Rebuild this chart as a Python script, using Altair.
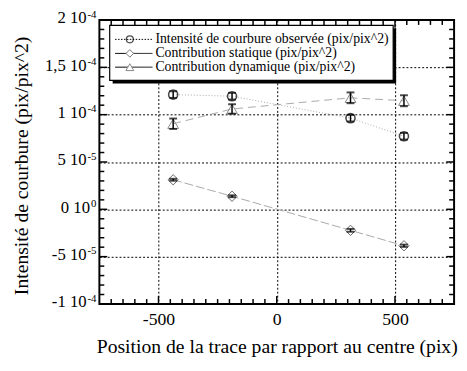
import altair as alt
import pandas as pd

# ---------------- data ----------------
positions = [-438, -189, 312, 538]

observed = [12.12e-5, 11.95e-5, 9.63e-5, 7.72e-5]
observed_err = [0.35e-5, 0.35e-5, 0.35e-5, 0.35e-5]

statique = [3.12e-5, 1.38e-5, -2.22e-5, -3.85e-5]
statique_err = [0.10e-5, 0.10e-5, 0.15e-5, 0.12e-5]

dynamique = [9.04e-5, 10.60e-5, 11.78e-5, 11.47e-5]
dynamique_err = [0.55e-5, 0.50e-5, 0.57e-5, 0.58e-5]

series_names = [
    "Intensité de courbure observée (pix/pix^2)",
    "Contribution statique (pix/pix^2)",
    "Contribution dynamique (pix/pix^2)",
]

x_tick_values = [-500, 0, 500]
y_tick_values = [-1e-4, -5e-5, 0.0, 5e-5, 1e-4, 1.5e-4, 2e-4]
y_tick_mantissa = ["-1 10", "-5 10", "0 10", "5 10", "1 10", "1,5 10", "2 10"]
y_tick_exponent = ["-4", "-5", "0", "-5", "-4", "-4", "-4"]

x_title = "Position de la trace par rapport au centre (pix)"
y_title = "Intensité de courbure (pix/pix^2)"

# ---------------- layout / style ----------------
FONT = "Liberation Serif, Times New Roman, DejaVu Serif, serif"
W, H = 361, 289
X_DOMAIN = [-750, 750]
Y_DOMAIN = [-1e-4, 2e-4]

x_scale = alt.Scale(domain=X_DOMAIN, nice=False, zero=False)
y_scale = alt.Scale(domain=Y_DOMAIN, nice=False, zero=False)

x_axis = alt.Axis(
    values=x_tick_values, grid=True, gridDash=[2, 2], gridColor="black",
    gridWidth=1, gridOpacity=1, ticks=False, domain=False,
    labelFont=FONT, labelFontSize=18, labelColor="black", labelPadding=7,
    labelExpr="'' + datum.value",
    title=x_title, titleFont=FONT, titleFontSize=20, titleFontWeight="normal",
    titleColor="black", titleY=49.5, titleBaseline="alphabetic",
)
y_axis = alt.Axis(
    values=y_tick_values, grid=True, gridDash=[2, 2], gridColor="black",
    gridWidth=1, gridOpacity=1, ticks=False, labels=False, domain=False,
    title=y_title, titleFont=FONT, titleFontSize=20, titleFontWeight="normal",
    titleColor="black", titleX=-73, titleY=148, titleAngle=270,
    titleBaseline="alphabetic", titleAlign="center",
)


def X(field):
    return alt.X(f"{field}:Q", scale=x_scale, axis=x_axis)


def Y(field):
    return alt.Y(f"{field}:Q", scale=y_scale, axis=y_axis)


def frame(vals, errs, name):
    return pd.DataFrame({
        "x": positions,
        "y": vals,
        "lo": [v - e for v, e in zip(vals, errs)],
        "hi": [v + e for v, e in zip(vals, errs)],
        "serie": name,
    })


df_obs = frame(observed, observed_err, series_names[0])
df_sta = frame(statique, statique_err, series_names[1])
df_dyn = frame(dynamique, dynamique_err, series_names[2])

layers = []

# connecting lines
LINE_GREY = "#a8a8a8"
layers.append(alt.Chart(df_obs).mark_line(color=LINE_GREY, strokeWidth=1, strokeDash=[1, 2]).encode(x=X("x"), y=Y("y")))
layers.append(alt.Chart(df_sta).mark_line(color=LINE_GREY, strokeWidth=1, strokeDash=[9, 3]).encode(x=X("x"), y=Y("y")))
layers.append(alt.Chart(df_dyn).mark_line(color=LINE_GREY, strokeWidth=1, strokeDash=[8, 5]).encode(x=X("x"), y=Y("y")))

# points
layers.append(alt.Chart(df_obs).mark_point(shape="circle", size=85, filled=False, color="black", strokeWidth=1.6).encode(x=X("x"), y=Y("y")))
layers.append(alt.Chart(df_sta).mark_point(shape="diamond", size=110, filled=True, fill="white", stroke="#666", strokeWidth=1, opacity=1).encode(x=X("x"), y=Y("y")))
layers.append(alt.Chart(df_dyn).mark_point(shape="triangle-up", size=120, filled=True, fill="white", fillOpacity=0, stroke="#888", strokeWidth=1, opacity=1).encode(x=X("x"), y=Y("y")))

# error bars
for d in (df_obs, df_sta, df_dyn):
    layers.append(alt.Chart(d).mark_rule(color="black", strokeWidth=1.5).encode(x=X("x"), y=Y("lo"), y2="hi"))
    layers.append(alt.Chart(d).mark_tick(color="black", orient="horizontal", size=8, thickness=2).encode(x=X("x"), y=Y("lo")))
    layers.append(alt.Chart(d).mark_tick(color="black", orient="horizontal", size=8, thickness=2).encode(x=X("x"), y=Y("hi")))

# inward ticks (all four sides)
x_minor = [v for v in range(-700, 701, 50) if v not in x_tick_values]
y_minor = [k * 1e-5 for k in range(-9, 20) if k % 5 != 0]
y_major = [v for v in y_tick_values if Y_DOMAIN[0] < v < Y_DOMAIN[1]]

TW = 1.5
for vals, ln in ((x_minor, 5), (x_tick_values, 8)):
    dfx = pd.DataFrame({"x": vals})
    layers.append(alt.Chart(dfx).mark_rule(color="black", strokeWidth=TW).encode(x=X("x"), y=alt.value(H), y2=alt.value(H - ln)))
    layers.append(alt.Chart(dfx).mark_rule(color="black", strokeWidth=TW).encode(x=X("x"), y=alt.value(0), y2=alt.value(ln)))
for vals, ln in ((y_minor, 5), (y_major, 8)):
    dfy = pd.DataFrame({"y": vals})
    layers.append(alt.Chart(dfy).mark_rule(color="black", strokeWidth=TW).encode(y=Y("y"), x=alt.value(0), x2=alt.value(ln)))
    layers.append(alt.Chart(dfy).mark_rule(color="black", strokeWidth=TW).encode(y=Y("y"), x=alt.value(W), x2=alt.value(W - ln)))

# y tick labels with superscript exponents
df_yl = pd.DataFrame({"y": y_tick_values, "m": y_tick_mantissa, "e": y_tick_exponent})
layers.append(alt.Chart(df_yl).mark_text(align="right", baseline="middle", font=FONT, fontSize=11, dy=-5.5, color="black").encode(y=Y("y"), x=alt.value(-3), text="e:N"))
layers.append(alt.Chart(df_yl).transform_filter("length(datum.e) == 2").mark_text(align="right", baseline="middle", font=FONT, fontSize=17, dx=-10, dy=-1.5, color="black").encode(y=Y("y"), x=alt.value(-3), text="m:N"))
layers.append(alt.Chart(df_yl).transform_filter("length(datum.e) == 1").mark_text(align="right", baseline="middle", font=FONT, fontSize=17, dx=-6.5, dy=-1.5, color="black").encode(y=Y("y"), x=alt.value(-3), text="m:N"))

# legend box with drop shadow
one = alt.Data(values=[{}])
LX0, LX1, LY0, LY1 = 10.5, 299, 5.5, 61.5
layers.append(alt.Chart(one).mark_rect(color="black").encode(x=alt.value(LX0 + 3), x2=alt.value(LX1 + 3), y=alt.value(LY0 + 3), y2=alt.value(LY1 + 3)))
layers.append(alt.Chart(one).mark_rect(fill="white", stroke="black", strokeWidth=1.2).encode(x=alt.value(LX0), x2=alt.value(LX1), y=alt.value(LY0), y2=alt.value(LY1)))

row_y = [19.7, 34, 48]
leg_dash = [[1.5, 1.5], [1, 0], [1, 0]]
leg_sym = [
    dict(shape="circle", size=50, filled=False, color="black", strokeWidth=1.3),
    dict(shape="diamond", size=60, filled=True, fill="white", stroke="#777", strokeWidth=1, opacity=1),
    dict(shape="triangle-up", size=65, filled=True, fill="white", stroke="#888", strokeWidth=1, opacity=1),
]
for name, ry, dash, sym in zip(series_names, row_y, leg_dash, leg_sym):
    layers.append(alt.Chart(one).mark_rule(color="black", strokeWidth=1, strokeDash=dash).encode(x=alt.value(16), x2=alt.value(54), y=alt.value(ry)))
    layers.append(alt.Chart(one).mark_point(**sym).encode(x=alt.value(31), y=alt.value(ry)))
    layers.append(alt.Chart(alt.Data(values=[{"label": name}])).mark_text(align="left", baseline="middle", font=FONT, fontSize=14, color="black").encode(x=alt.value(57), y=alt.value(ry), text="label:N"))

chart = alt.layer(*layers).properties(
    width=W, height=H,
    autosize=alt.AutoSizeParams(type="none"),
    padding={"left": 93, "top": 9, "right": 5, "bottom": 65},
    background="white",
).configure_view(stroke="black", strokeWidth=2)

chart.save("out.html", embed_options={"renderer": "svg", "actions": False})
